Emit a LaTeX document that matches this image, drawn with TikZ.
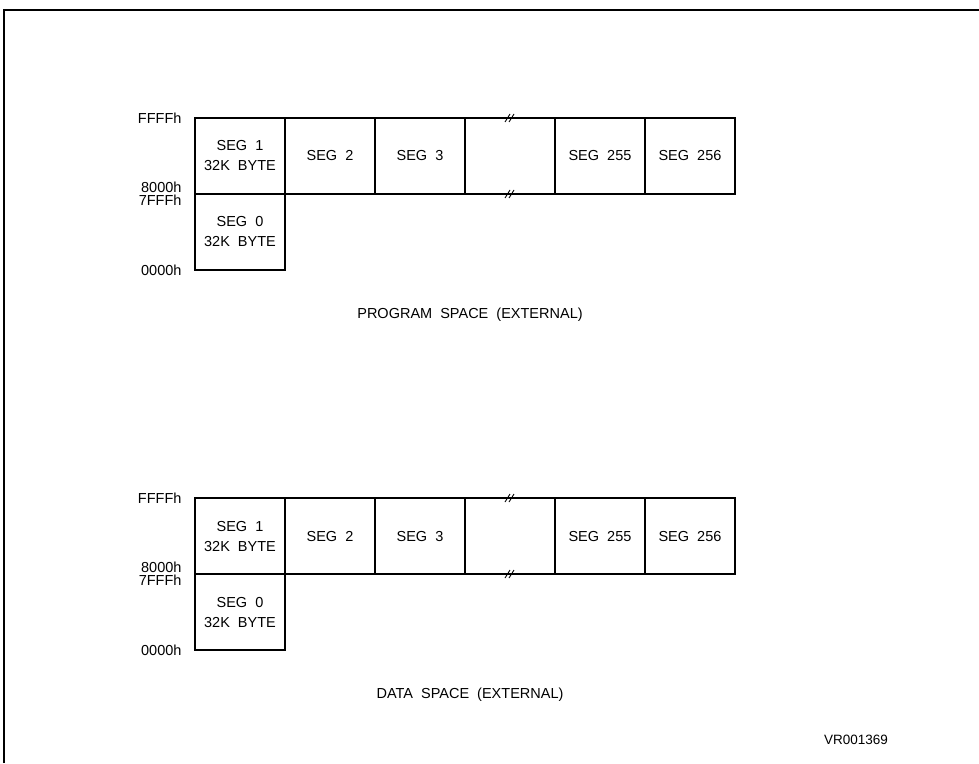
\documentclass[tikz,border=0pt]{standalone}
\usepackage{fontspec}
\setmainfont{Liberation Sans}
\usetikzlibrary{positioning}

\begin{document}
\begin{tikzpicture}[x=1pt, y=-1pt, line width=1.1pt,
  font=\fontsize{14.5}{20}\selectfont, node distance=0pt,
  seg/.style={draw, minimum width=90pt, minimum height=76pt, inner sep=0pt, outer sep=0pt, align=center},
  addr/.style={inner sep=0pt},
  brk/.style={line width=0.9pt}]
\useasboundingbox (0,0) rectangle (979,763);
% outer frame (only left and top edges are in view)
\coordinate (fb) at (4,763); \coordinate (fc) at (4,10); \coordinate (fr) at (979,10);
\draw[line width=1.5pt] (fb) -- (fc) -- (fr);

\foreach \y/\pre/\title in {118/p/PROGRAM\ \ SPACE\ \ (EXTERNAL), 498/d/DATA\ \ SPACE\ \ (EXTERNAL)} {
  \node[seg, anchor=north west] (\pre1) at (195,\y) {SEG\ \ 1\\32K\ \ BYTE};
  \node[seg, right=of \pre1] (\pre2) {SEG\ \ 2};
  \node[seg, right=of \pre2] (\pre3) {SEG\ \ 3};
  \node[seg, right=of \pre3] (\pre g) {};
  \node[seg, right=of \pre g] (\pre255) {SEG\ \ 255};
  \node[seg, right=of \pre255] (\pre256) {SEG\ \ 256};
  \node[seg, below=of \pre1] (\pre0) {SEG\ \ 0\\32K\ \ BYTE};
  % address marks
  \node[addr, left=13pt of \pre1.north west] (\pre top) {FFFFh};
  \node[addr, anchor=east] (\pre hi) at ([shift={(-13,-7)}]\pre1.south west) {8000h};
  \node[addr, anchor=east] (\pre lo) at ([shift={(-13,6)}]\pre1.south west) {7FFFh};
  \node[addr, left=13pt of \pre0.south west] (\pre bot) {0000h};
  % break marks
  \foreach \a in {north,south}
    \draw[brk] ([shift={(-5,4)}]\pre g.\a) -- ++(5,-8) ([shift={(-1,4)}]\pre g.\a) -- ++(5,-8);
  \node (\pre t) at (470,\y+197) {\title};
}
\node (ref) at (856,740) {\fontsize{13.5}{16}\selectfont VR001369};
\end{tikzpicture}
\end{document}
